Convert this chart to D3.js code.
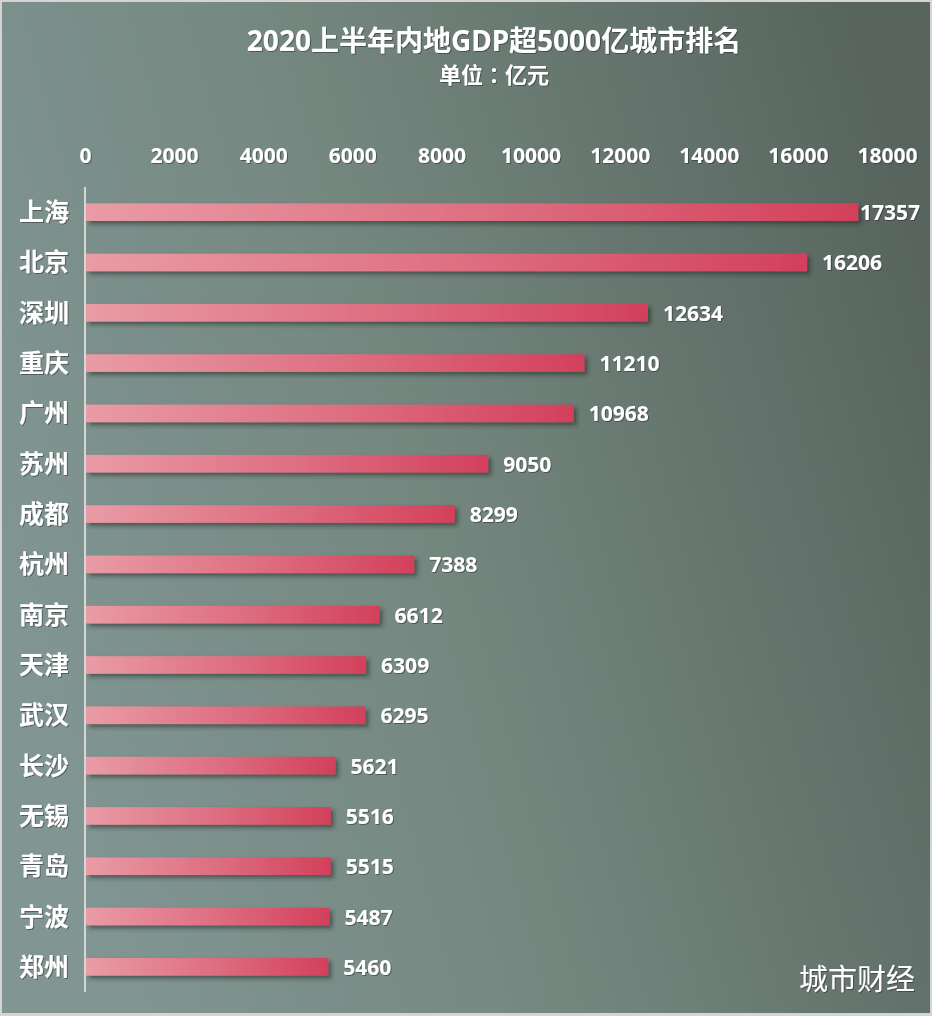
<!DOCTYPE html>
<html>
<head>
<meta charset="utf-8">
<script src="https://cdn.jsdelivr.net/npm/d3@7"></script>
<style>
  html, body { margin: 0; padding: 0; background: #d4d4d4; }
  svg { display: block; }
  text { font-family: "Noto Sans", "Noto Sans CJK SC", sans-serif; fill: #fff; }
</style>
</head>
<body>
<div id="chart"></div>
<script>
// Declare constants
const FRAME_WIDTH = 932;
const FRAME_HEIGHT = 1016;
const MARGINS = {left: 85, right: 45, top: 187, bottom: 24};

// data
const CITIES = ["上海", "北京", "深圳", "重庆", "广州", "苏州", "成都", "杭州",
                "南京", "天津", "武汉", "长沙", "无锡", "青岛", "宁波", "郑州"];
const GDP = [17357, 16206, 12634, 11210, 10968, 9050, 8299, 7388,
             6612, 6309, 6295, 5621, 5516, 5515, 5487, 5460];
const TICKS = [0, 2000, 4000, 6000, 8000, 10000, 12000, 14000, 16000, 18000];

const TITLE = "2020上半年内地GDP超5000亿城市排名";
const SUBTITLE = ["单位", "：", "亿元"];
const SOURCE = "城市财经";

const data = CITIES.map((c, i) => ({city: c, value: GDP[i]}));

const FRAME = d3.select("#chart")
                .append("svg")
                  .attr("width", FRAME_WIDTH)
                  .attr("height", FRAME_HEIGHT);

const defs = FRAME.append("defs");

// background gradient
const bg = defs.append("linearGradient")
                .attr("id", "bg")
                .attr("x1", "0%").attr("y1", "60%")
                .attr("x2", "100%").attr("y2", "30%");
bg.append("stop").attr("offset", "0%").attr("stop-color", "#819593");
bg.append("stop").attr("offset", "45%").attr("stop-color", "#74877f");
bg.append("stop").attr("offset", "100%").attr("stop-color", "#58655f");

// bar gradient, light pink to red along each bar
const barGrad = defs.append("linearGradient")
                .attr("id", "barGrad")
                .attr("x1", "0%").attr("x2", "100%")
                .attr("y1", "0%").attr("y2", "0%");
barGrad.append("stop").attr("offset", "0%").attr("stop-color", "#e99ca6");
barGrad.append("stop").attr("offset", "55%").attr("stop-color", "#dd6c7f");
barGrad.append("stop").attr("offset", "100%").attr("stop-color", "#d3405b");

// shadows
defs.append("filter").attr("id", "barShadow")
      .attr("x", "-5%").attr("y", "-50%").attr("width", "115%").attr("height", "250%")
    .append("feDropShadow")
      .attr("dx", 3).attr("dy", 3).attr("stdDeviation", 2)
      .attr("flood-color", "#1c2622").attr("flood-opacity", 0.55);

defs.append("filter").attr("id", "textShadow")
    .append("feDropShadow")
      .attr("dx", 1).attr("dy", 1).attr("stdDeviation", 0.6)
      .attr("flood-color", "#222").attr("flood-opacity", 0.5);

// background with light border
FRAME.append("rect")
      .attr("x", 2).attr("y", 2)
      .attr("width", FRAME_WIDTH - 4).attr("height", FRAME_HEIGHT - 5)
      .attr("fill", "url(#bg)");

// scale functions
const X_SCALE = d3.scaleLinear()
                  .domain([0, 18000])
                  .range([MARGINS.left, 887]);

const Y_SCALE = d3.scaleBand()
                  .domain(CITIES)
                  .range([MARGINS.top, FRAME_HEIGHT - MARGINS.bottom])
                  .paddingInner(0.65)
                  .paddingOuter(0.325);

// titles
FRAME.append("text")
      .attr("x", 494).attr("y", 51)
      .attr("text-anchor", "middle")
      .attr("font-size", "28px").attr("font-weight", "bold")
      .attr("filter", "url(#textShadow)")
      .text(TITLE);

// subtitle, colon taken from the TC face so it sits centred
const sub = FRAME.append("text")
      .attr("x", 494).attr("y", 83)
      .attr("text-anchor", "middle")
      .attr("font-size", "22px").attr("font-weight", "bold")
      .attr("filter", "url(#textShadow)");
sub.selectAll("tspan")
      .data(SUBTITLE)
      .enter()
      .append("tspan")
        .attr("font-family", (d, i) => i === 1 ? "'Noto Sans CJK TC'" : null)
        .text((d) => d);

// top axis, labels only
const xAxis = FRAME.append("g")
      .attr("transform", "translate(0,163)")
      .call(d3.axisTop(X_SCALE).tickValues(TICKS).tickSize(0).tickPadding(0)
              .tickFormat(d3.format("d")));
xAxis.select(".domain").remove();
xAxis.selectAll("text")
      .attr("font-size", "21px").attr("font-weight", "bold")
      .attr("font-family", "'Noto Sans', sans-serif")
      .attr("fill", "#fff")
      .attr("filter", "url(#textShadow)");

// bars
FRAME.selectAll(".bar")
      .data(data)
      .enter()
      .append("rect")
        .attr("class", "bar")
        .attr("x", X_SCALE(0) + 1)
        .attr("y", (d) => Y_SCALE(d.city))
        .attr("width", (d) => X_SCALE(d.value) - X_SCALE(0) - 1)
        .attr("height", Y_SCALE.bandwidth())
        .attr("fill", "url(#barGrad)")
        .attr("filter", "url(#barShadow)");

// vertical axis line
FRAME.append("line")
      .attr("x1", X_SCALE(0)).attr("x2", X_SCALE(0))
      .attr("y1", MARGINS.top).attr("y2", FRAME_HEIGHT - MARGINS.bottom)
      .attr("stroke", "#d6d6d6").attr("stroke-width", 2);

// city labels
FRAME.selectAll(".city")
      .data(data)
      .enter()
      .append("text")
        .attr("class", "city")
        .attr("x", 69)
        .attr("y", (d) => Y_SCALE(d.city) + Y_SCALE.bandwidth() / 2 + 9)
        .attr("text-anchor", "end")
        .attr("font-size", "25px").attr("font-weight", "bold")
        .attr("filter", "url(#textShadow)")
        .text((d) => d.city);

// value labels, pushed inside the frame if they would overflow
FRAME.selectAll(".val")
      .data(data)
      .enter()
      .append("text")
        .attr("class", "val")
        .attr("y", (d) => Y_SCALE(d.city) + Y_SCALE.bandwidth() / 2 + 8)
        .attr("font-size", "21px").attr("font-weight", "bold")
        .attr("filter", "url(#textShadow)")
        .text((d) => d.value)
        .each(function(d) {
          const w = this.getComputedTextLength();
          let x = X_SCALE(d.value) + 15;
          if (x + w > 920) x = 920 - w;
          d3.select(this).attr("x", x);
        });

// source note
FRAME.append("text")
      .attr("x", 915).attr("y", 990)
      .attr("text-anchor", "end")
      .attr("font-size", "29px")
      .attr("font-family", "'Noto Sans CJK SC', sans-serif")
      .attr("filter", "url(#textShadow)")
      .text(SOURCE);
</script>
</body>
</html>
